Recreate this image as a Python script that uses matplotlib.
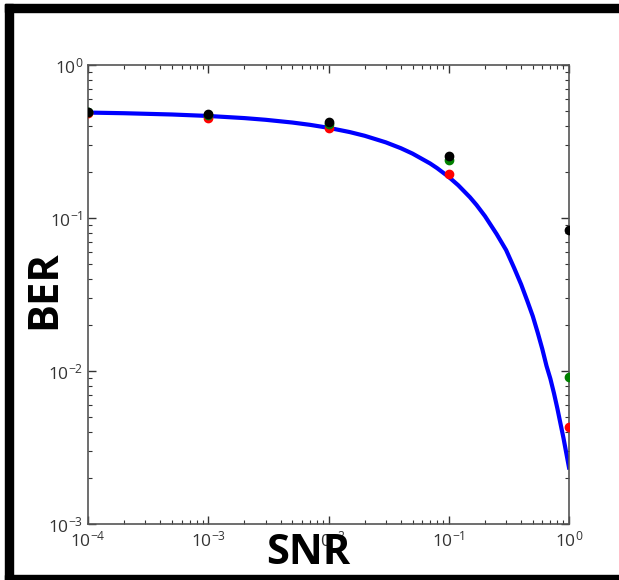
import numpy as np
import matplotlib.pyplot as plt
from matplotlib.patches import Rectangle

# theoretical BER curve
snr_curve = [1e-4, 2e-4, 5e-4, 1e-3, 2e-3, 3e-3, 5e-3, 7e-3, 1e-2, 1.5e-2, 2e-2, 3e-2,
             4e-2, 5e-2, 7e-2, 8e-2, 0.1, 0.12, 0.15, 0.17, 0.2, 0.25, 0.3, 0.35, 0.4,
             0.45, 0.5, 0.55, 0.6, 0.65, 0.7, 0.75, 0.8, 0.85, 0.9, 0.95, 1.0]
ber_curve = [0.4887, 0.484, 0.4748, 0.4644, 0.4497, 0.4384, 0.4207, 0.4065, 0.3886,
             0.3645, 0.3446, 0.3121, 0.2858, 0.2635, 0.2272, 0.2118, 0.1855, 0.1636,
             0.1367, 0.1218, 0.1029, 0.0786, 0.0617, 0.0471, 0.0368, 0.0287, 0.0228,
             0.01775, 0.0139, 0.0108, 0.0089, 0.00715, 0.0057, 0.00452, 0.00364,
             0.0029, 0.00234]

# simulated points
snr_pts = [1e-4, 1e-3, 1e-2, 1e-1, 1.0]
ber_red = [0.486, 0.45, 0.388, 0.194, 0.0043]
ber_green = [0.49, 0.47, 0.41, 0.24, 0.0092]
ber_black = [0.493, 0.478, 0.424, 0.254, 0.0835]

plt.rcParams['font.family'] = ['Open Sans', 'DejaVu Sans']

fig = plt.figure(figsize=(6.19, 5.8), dpi=100)
ax = fig.add_axes([88/619, 1-524/580, (569-88)/619, (524-65)/580])

ax.plot(snr_curve, ber_curve, color='b', lw=3, zorder=2)
ax.plot(snr_pts, ber_red, 'o', color='red', mec='red', ms=6, zorder=3)
ax.plot(snr_pts, ber_green, 'o', color='green', mec='green', ms=6, zorder=4)
ax.plot(snr_pts, ber_black, 'o', color='black', mec='black', ms=6, zorder=5)

ax.set_xscale('log')
ax.set_yscale('log')
ax.set_xlim(1e-4, 1)
ax.set_ylim(1e-3, 1)
ax.tick_params(which='both', direction='in', top=True, right=True,
               colors='#333333', labelsize=12.5)
ax.tick_params(which='major', length=6, width=1)
ax.tick_params(which='minor', length=3, width=0.8)
ax.tick_params(axis='x', pad=5)
for s in ax.spines.values():
    s.set_color('#555555')
    s.set_linewidth(1.2)

fig.text(308/619, 1-553/580, 'SNR', fontsize=30, fontweight='bold',
         ha='center', va='center')
fig.text(45/619, 1-290/580, 'BER', fontsize=30, fontweight='bold',
         rotation=90, ha='center', va='center')

# black border around the figure
fig.patches.append(Rectangle((5/619, 0), 8/619, 1-4/580, transform=fig.transFigure,
                             color='black', zorder=10))
fig.patches.append(Rectangle((5/619, 1-12/580), 1, 8/580, transform=fig.transFigure,
                             color='black', zorder=10))
fig.patches.append(Rectangle((5/619, 0), 1, 5/580, transform=fig.transFigure,
                             color='black', zorder=10))

fig.savefig('out.png', dpi=100)
